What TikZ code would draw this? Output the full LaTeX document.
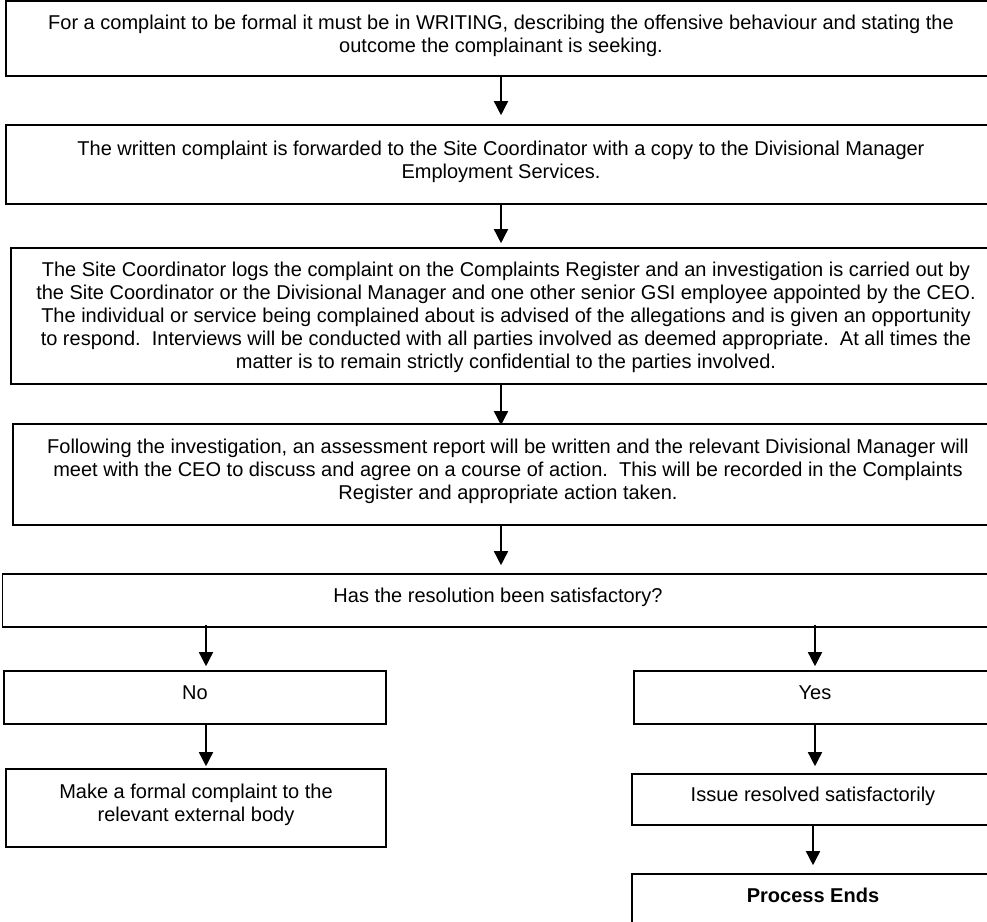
\documentclass[tikz,border=0pt]{standalone}
\usepackage{fontspec}
\setmainfont{Liberation Sans}
\usetikzlibrary{arrows.meta}

\tikzset{
  flowbox/.style={draw, line width=1.6pt, align=center, inner sep=0pt,
    font=\fontsize{20pt}{23pt}\selectfont,
    text depth=10pt},%<-- deeper text box lifts the text a little
  flow/.style={line width=1.5pt, -{Triangle[length=14pt,width=14pt]}},
}

\begin{document}
\begin{tikzpicture}[x=1pt,y=-1pt]
\useasboundingbox (0,0) rectangle (987,921);

\node[flowbox, minimum width=990pt, minimum height=75pt] (formal) at (501,38.5)
  {For a complaint to be formal it must be in WRITING, describing the offensive behaviour and stating the\\
   outcome the complainant is seeking.};
\node[flowbox, minimum width=990pt, minimum height=79pt] (written) at (501,164.5)
  {The written complaint is forwarded to the Site Coordinator with a copy to the Divisional Manager\\
   Employment Services.};
\node[flowbox, minimum width=990pt, minimum height=136pt, text depth=1pt] (logs) at (506,316)
  {The Site Coordinator logs the complaint on the Complaints Register and an investigation is carried out by\\
   the Site Coordinator or the Divisional Manager and one other senior GSI employee appointed by the CEO.\\
   The individual or service being complained about is advised of the allegations and is given an opportunity\\
   to respond.\ \ Interviews will be conducted with all parties involved as deemed appropriate.\ \ At all times the\\
   matter is to remain strictly confidential to the parties involved.};
\node[flowbox, minimum width=990pt, minimum height=101pt] (assess) at (508,474.5)
  {Following the investigation, an assessment report will be written and the relevant Divisional Manager will\\
   meet with the CEO to discuss and agree on a course of action.\ \ This will be recorded in the Complaints\\
   Register and appropriate action taken.};
\node[flowbox, minimum width=991pt, minimum height=53pt] (choice) at (498,600.5)
  {Has the resolution been satisfactory?};

\node[flowbox, minimum width=382pt, minimum height=53pt] (no) at (195,697.5) {No};
\node[flowbox, minimum width=362pt, minimum height=53pt] (yes) at (815,697.5) {Yes};
\node[flowbox, minimum width=380pt, minimum height=78pt] (external) at (196,808)
  {Make a formal complaint to the\\ relevant external body};
\node[flowbox, minimum width=362pt, minimum height=51pt] (resolved) at (813,799.5)
  {Issue resolved satisfactorily};
\node[flowbox, minimum width=362pt, minimum height=52pt] (ends) at (813,900)
  {\textbf{Process Ends}};

% main column
\draw[flow, shorten >=9pt] (formal.south) -- (written.north);
\draw[flow, shorten >=4pt] (written.south) -- (logs.north -| written.south);
\draw[flow, shorten >=-2pt] (logs.south -| formal.south) -- (assess.north -| formal.south);
\draw[flow, shorten >=8pt] (assess.south -| formal.south) -- (choice.north -| formal.south);

% the two answers
\draw[flow, shorten <=-3pt, shorten >=4pt] ([xshift=11pt]no.north |- choice.south) -- ([xshift=11pt]no.north);
\draw[flow, shorten <=-3pt, shorten >=4pt] (yes.north |- choice.south) -- (yes.north);
\draw[flow, shorten >=2pt] ([xshift=11pt]no.south) -- ([xshift=11pt]no.south |- external.north);
\draw[flow, shorten >=7pt] (yes.south) -- (resolved.north -| yes.south);
\draw[flow, shorten >=8pt] (resolved.south) -- (ends.north);
\end{tikzpicture}
\end{document}
